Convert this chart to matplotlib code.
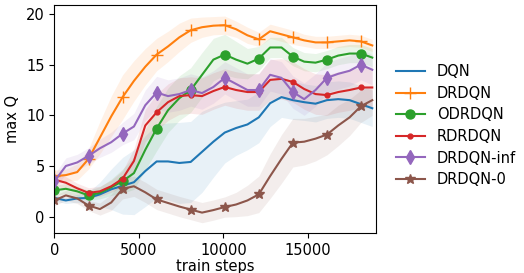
import numpy as np
import matplotlib
matplotlib.use("Agg")
import matplotlib.pyplot as plt

steps = np.arange(29) * 672

labels = ["DQN", "DRDQN", "ODRDQN", "RDRDQN", "DRDQN-inf", "DRDQN-0"]

dqn = [1.85, 1.6, 1.8, 1.85, 2.2, 2.7, 3.05, 3.4, 4.5, 5.45, 5.45, 5.3, 5.4, 6.4,
       7.4, 8.3, 8.75, 9.1, 9.8, 11.2, 11.8, 11.5, 11.3, 11.15, 11.5, 11.6, 11.5, 11.1, 10.7]
drdqn = [4.0, 4.1, 4.4, 5.7, 7.8, 9.9, 11.8, 13.4, 14.8, 16.0, 16.8, 17.7, 18.4, 18.7,
         18.85, 18.9, 18.5, 17.9, 17.5, 18.3, 18.0, 17.7, 17.4, 17.2, 17.2, 17.3, 17.4, 17.3, 16.9]
odrdqn = [2.6, 2.75, 2.5, 2.1, 2.35, 2.9, 3.5, 4.3, 6.6, 8.7, 10.5, 11.7, 12.5, 14.0,
          15.5, 16.0, 15.5, 15.1, 15.6, 16.7, 16.7, 15.8, 15.3, 15.2, 15.5, 15.9, 16.1, 16.1, 15.7]
rdrdqn = [3.65, 3.35, 2.8, 2.35, 2.5, 3.0, 3.75, 5.5, 9.0, 10.3, 11.3, 11.9, 12.0, 11.9,
          12.4, 12.8, 12.5, 12.3, 12.3, 13.5, 13.6, 13.3, 12.6, 12.1, 12.0, 12.3, 12.5, 12.75, 12.75]
drdqn_inf = [3.5, 5.0, 5.35, 6.0, 6.75, 7.35, 8.2, 8.9, 11.0, 12.25, 11.9, 12.1, 12.5, 12.2,
             12.8, 13.7, 13.1, 12.5, 12.5, 14.0, 13.7, 12.3, 11.6, 12.5, 13.7, 14.1, 14.4, 15.0, 14.5]
drdqn_0 = [1.6, 2.1, 1.8, 1.1, 0.75, 1.4, 2.75, 3.0, 2.4, 1.7, 1.35, 1.0, 0.7, 0.4,
           0.65, 0.95, 1.2, 1.6, 2.2, 4.0, 5.7, 7.3, 7.4, 7.7, 8.1, 9.0, 9.8, 10.9, 11.5]

std_dqn = [0.3, 0.3, 0.4, 0.6, 1.2, 2.0, 2.8, 3.2, 3.5, 3.6, 3.8, 4.0, 4.0, 4.0,
           3.5, 3.0, 2.7, 2.5, 2.5, 2.3, 2.0, 1.9, 1.8, 1.8, 1.8, 1.8, 1.8, 1.8, 1.8]
std_drdqn = [0.6, 0.6, 0.8, 1.0, 1.6, 2.0, 2.2, 2.0, 1.8, 1.6, 1.5, 1.4, 1.2, 1.0,
             0.9, 0.9, 0.8, 0.8, 0.7, 0.7, 0.7, 0.7, 0.6, 0.6, 0.6, 0.6, 0.6, 0.6, 0.6]
std_odrdqn = [0.5, 0.5, 0.5, 0.5, 0.6, 0.8, 1.2, 1.6, 2.0, 2.2, 2.2, 2.2, 2.2, 2.2,
              2.1, 2.0, 1.8, 1.5, 1.2, 1.0, 1.0, 0.9, 0.9, 0.9, 0.9, 0.9, 0.9, 0.9, 0.9]
std_rdrdqn = [0.6, 0.6, 0.5, 0.5, 0.5, 0.6, 0.8, 1.2, 1.6, 1.8, 1.8, 1.8, 1.8, 1.8,
              1.8, 1.8, 1.8, 1.8, 1.8, 2.0, 2.0, 2.0, 2.0, 2.0, 2.0, 2.0, 2.0, 2.0, 2.0]
std_drdqn_inf = [0.7, 0.8, 0.8, 0.8, 0.9, 1.0, 1.1, 1.3, 1.5, 1.6, 1.6, 1.6, 1.6, 1.6,
                 1.6, 1.6, 1.6, 1.6, 1.6, 1.6, 1.6, 1.6, 1.6, 1.6, 1.5, 1.5, 1.5, 1.5, 1.5]
std_drdqn_0 = [0.5, 0.5, 0.5, 0.5, 0.6, 0.8, 1.0, 1.0, 1.0, 1.0, 1.0, 1.0, 1.0, 1.0,
               1.0, 1.0, 1.2, 1.5, 1.8, 2.2, 2.4, 2.4, 2.3, 2.2, 2.0, 2.0, 1.8, 1.6, 1.5]

series = [dqn, drdqn, odrdqn, rdrdqn, drdqn_inf, drdqn_0]
stds = [std_dqn, std_drdqn, std_odrdqn, std_rdrdqn, std_drdqn_inf, std_drdqn_0]
colors = ["#1f77b4", "#ff7f0e", "#2ca02c", "#d62728", "#9467bd", "#8c564b"]
markers = [None, "+", "o", ".", "d", "*"]
msizes = [6, 8, 6.5, 7, 7, 7]

fig = plt.figure(figsize=(5.24, 2.73), dpi=100)
ax = fig.add_axes([0.104, 0.147, 0.614, 0.835])

x = np.array(steps)
for lab, y, s, c, m, ms in zip(labels, series, stds, colors, markers, msizes):
    y = np.array(y)
    s = np.array(s)
    ax.fill_between(x, y - s, y + s, color=c, alpha=0.1, linewidth=0)
    ax.plot(x, y, color=c, marker=m, markersize=ms, markevery=3, label=lab, linewidth=1.5)

ax.set_xlim(0, 19050)
ax.set_ylim(-1.6, 20.9)
ax.set_xticks([0, 5000, 10000, 15000])
ax.set_yticks([0, 5, 10, 15, 20])
ax.tick_params(labelsize=10.5)
ax.set_xlabel("train steps", fontsize=10.5, labelpad=1)
ax.set_ylabel("max Q", fontsize=10.5)
ax.legend(loc="center left", bbox_to_anchor=(1.02, 0.47), frameon=False, fontsize=10.5,
          labelspacing=0.45)

fig.savefig("out.png", dpi=100)
